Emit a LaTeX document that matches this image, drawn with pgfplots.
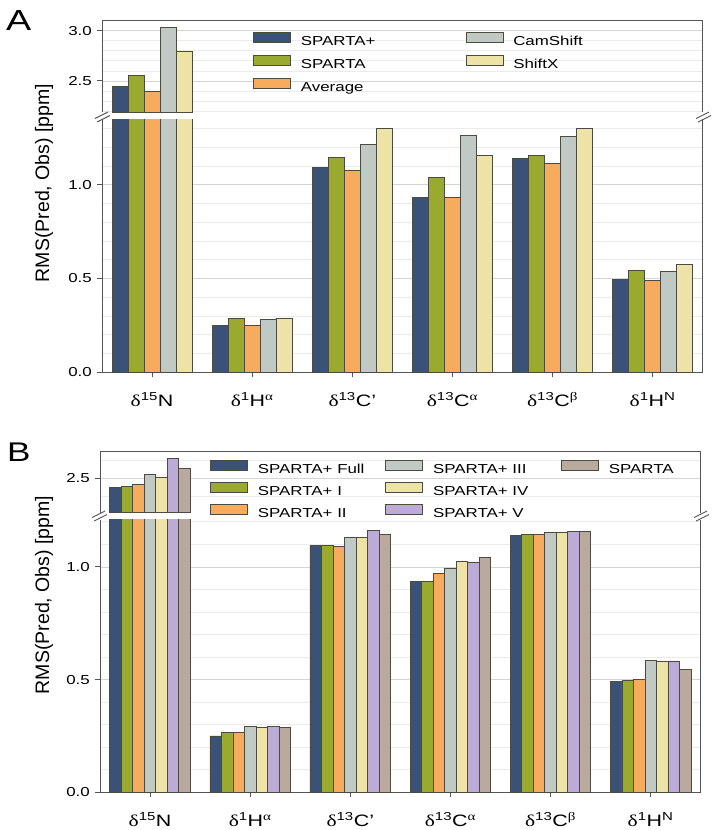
\documentclass[border=0pt]{standalone}
\usepackage{pgfplots}
\usepackage{pgfplotstable}
\pgfplotsset{compat=1.18}
\usepackage{fontspec}
\setmainfont{Liberation Sans}[FakeStretch=1.3]
\newfontfamily\labelfont{Liberation Sans}
\newfontfamily\greekfont{Liberation Serif}[FakeStretch=1.3]
\definecolor{cSP}{RGB}{59,82,120}
\definecolor{cSPA}{RGB}{154,170,46}
\definecolor{cAVG}{RGB}{246,172,92}
\definecolor{cCAM}{RGB}{193,201,197}
\definecolor{cSHX}{RGB}{237,227,167}
\definecolor{cV}{RGB}{188,170,215}
\definecolor{cTAU}{RGB}{186,170,158}
\definecolor{edge}{RGB}{75,75,65}
\definecolor{axisgray}{RGB}{85,85,85}
\newcommand{\dl}{{\greekfont δ}}
\newcommand{\ga}{{\greekfont α}}
\newcommand{\gb}{{\greekfont β}}

\pgfplotstableread{
x sp spa avg cam shx
0 2.447 2.553 2.397 3.03 2.793
1 0.250 0.289 0.250 0.282 0.287
2 1.094 1.144 1.076 1.214 1.300
3 0.934 1.040 0.931 1.262 1.156
4 1.138 1.156 1.115 1.255 1.298
5 0.495 0.544 0.491 0.539 0.574
}\tabA

\pgfplotstableread{
x full one two three four five spa
0 2.449 2.455 2.468 2.524 2.503 2.615 2.557
1 0.250 0.264 0.264 0.294 0.288 0.292 0.288
2 1.095 1.095 1.091 1.129 1.132 1.160 1.144
3 0.937 0.937 0.971 0.994 1.024 1.018 1.042
4 1.140 1.144 1.142 1.153 1.152 1.156 1.156
5 0.492 0.498 0.499 0.585 0.579 0.583 0.544
}\tabB

\pgfplotsset{
  barleg/.style={legend image code/.code={\draw[##1] (0pt,-0.35pt) rectangle (37pt,9.65pt);}},
  rms/.style={
    scale only axis, width=600.7pt,
    xmin=-0.5, xmax=5.5,
    ybar,
    axis line style={draw=axisgray, line width=0.9pt, -},
    ymajorgrids, yminorgrids,
    major grid style={draw=black!17, line width=0.7pt},
    minor grid style={draw=black!8, line width=0.7pt},
    tick style={draw=axisgray, line width=0.9pt},
    major tick length=5pt, minor tick length=0pt,
    tick align=outside,
    ytick pos=left,
    /pgf/number format/assume math mode=true,
    yticklabel style={font=\fontsize{13}{13}\selectfont, inner sep=0pt, xshift=-5pt},
    every axis plot/.append style={draw=edge, line width=0.7pt},
  },
  upper/.style={rms, axis x line*=top, axis y line*=box, xtick=\empty,
    every axis plot/.append style={restrict y to domain=2:4}},
  lower/.style={rms, axis x line*=bottom, axis y line*=box,
    xtick={0,1,2,3,4,5}, xtick pos=bottom,
    xticklabels={{\dl\textsuperscript{15}N},{\dl\textsuperscript{1}H\textsuperscript{\ga}},{\dl\textsuperscript{13}C'},{\dl\textsuperscript{13}C\textsuperscript{\ga}},{\dl\textsuperscript{13}C\textsuperscript{\gb}},{\dl\textsuperscript{1}H\textsuperscript{N}}},
    xticklabel style={font=\fontsize{16.5}{16.5}\selectfont, inner sep=0pt, anchor=base, yshift=-29pt},
    ymin=0, ytick={0,0.5,1.0}, yticklabels={0.0,0.5,1.0}},
}

\newcommand{\barsA}{%
\addplot[fill=cSP, bar width=0.16, bar shift=-0.32, forget plot] table[x=x,y=sp]{\tabA};
\addplot[fill=cSPA, bar width=0.16, bar shift=-0.16, forget plot] table[x=x,y=spa]{\tabA};
\addplot[fill=cAVG, bar width=0.16, bar shift=0, forget plot] table[x=x,y=avg]{\tabA};
\addplot[fill=cCAM, bar width=0.16, bar shift=0.16, forget plot] table[x=x,y=cam]{\tabA};
\addplot[fill=cSHX, bar width=0.16, bar shift=0.32, forget plot] table[x=x,y=shx]{\tabA};
}
\newcommand{\barsB}{%
\addplot[fill=cSP, bar width=0.115, bar shift=-0.345, forget plot] table[x=x,y=full]{\tabB};
\addplot[fill=cSPA, bar width=0.115, bar shift=-0.23, forget plot] table[x=x,y=one]{\tabB};
\addplot[fill=cAVG, bar width=0.115, bar shift=-0.115, forget plot] table[x=x,y=two]{\tabB};
\addplot[fill=cCAM, bar width=0.115, bar shift=0, forget plot] table[x=x,y=three]{\tabB};
\addplot[fill=cSHX, bar width=0.115, bar shift=0.115, forget plot] table[x=x,y=four]{\tabB};
\addplot[fill=cV, bar width=0.115, bar shift=0.23, forget plot] table[x=x,y=five]{\tabB};
\addplot[fill=cTAU, bar width=0.115, bar shift=0.345, forget plot] table[x=x,y=spa]{\tabB};
}

\begin{document}
\begin{tikzpicture}
\useasboundingbox (0,0) rectangle (715pt,-830pt);

% ---------- Panel A ----------
\begin{axis}[upper, at={(102pt,-112pt)}, anchor=south west, height=91.3pt,
  ymin=2.19, ymax=3.10, ytick={2.5,3.0}, yticklabels={2.5,3.0},
  minor ytick={2.2,2.3,2.4,2.6,2.7,2.8,2.9},
  legend cell align=left, legend columns=2,
  legend style={draw=none, fill=none, inner sep=0pt, at={(0.2514,0.880)}, anchor=north west,
    font=\fontsize{13}{13}\selectfont, row sep=6.9pt,
    nodes={inner sep=0pt, text height=10pt, text depth=2.6pt},
    /tikz/column 1/.style={column sep=10pt},
    /tikz/column 2/.style={column sep=90pt},
    /tikz/column 3/.style={column sep=10pt}},
]
\barsA
\addlegendimage{barleg, fill=cSP, draw=edge, line width=0.7pt}\addlegendentry{SPARTA+}
\addlegendimage{barleg, fill=cCAM, draw=edge, line width=0.7pt}\addlegendentry{CamShift}
\addlegendimage{barleg, fill=cSPA, draw=edge, line width=0.7pt}\addlegendentry{SPARTA}
\addlegendimage{barleg, fill=cSHX, draw=edge, line width=0.7pt}\addlegendentry{ShiftX}
\addlegendimage{barleg, fill=cAVG, draw=edge, line width=0.7pt}\addlegendentry{Average}
\end{axis}

\begin{axis}[lower, at={(102pt,-372.3pt)}, anchor=south west, height=253.3pt,
  ymax=1.35, minor ytick={0.1,0.2,0.3,0.4,0.6,0.7,0.8,0.9,1.1,1.2,1.3}]
\barsA
\end{axis}

% ---------- Panel B ----------
\begin{axis}[upper, at={(100pt,-512.7pt)}, anchor=south west, height=61.7pt,
  ymin=2.305, ymax=2.655, ytick={2.5}, yticklabels={2.5},
  minor ytick={2.4,2.6},
  legend cell align=left, legend columns=3,
  legend style={draw=none, fill=none, inner sep=0pt, at={(0.1831,0.86)}, anchor=north west,
    font=\fontsize{13}{13}\selectfont, row sep=5.75pt,
    nodes={inner sep=0pt, text height=10pt, text depth=2.6pt},
    /tikz/column 1/.style={column sep=10pt},
    /tikz/column 2/.style={column sep=20.9pt},
    /tikz/column 3/.style={column sep=10pt},
    /tikz/column 4/.style={column sep=32.8pt},
    /tikz/column 5/.style={column sep=10pt}},
]
\barsB
\addlegendimage{barleg, fill=cSP, draw=edge, line width=0.7pt}\addlegendentry{SPARTA+ Full}
\addlegendimage{barleg, fill=cCAM, draw=edge, line width=0.7pt}\addlegendentry{SPARTA+ III}
\addlegendimage{barleg, fill=cTAU, draw=edge, line width=0.7pt}\addlegendentry{SPARTA}
\addlegendimage{barleg, fill=cSPA, draw=edge, line width=0.7pt}\addlegendentry{SPARTA+ I}
\addlegendimage{barleg, fill=cSHX, draw=edge, line width=0.7pt}\addlegendentry{SPARTA+ IV}
\addlegendimage{empty legend}\addlegendentry{}
\addlegendimage{barleg, fill=cAVG, draw=edge, line width=0.7pt}\addlegendentry{SPARTA+ II}
\addlegendimage{barleg, fill=cV, draw=edge, line width=0.7pt}\addlegendentry{SPARTA+ V}
\addlegendimage{empty legend}\addlegendentry{}
\end{axis}

\begin{axis}[lower, at={(100pt,-792.3pt)}, anchor=south west, height=272.8pt,
  ymax=1.21, minor ytick={0.1,0.2,0.3,0.4,0.6,0.7,0.8,0.9,1.1,1.2}]
\barsB
\end{axis}

% break marks
\begin{scope}[draw=axisgray, line width=0.9pt]
\draw (95pt,-118.5pt) -- (108pt,-112pt);
\draw (97pt,-122pt) -- (110pt,-115.5pt);
\draw (696pt,-118.5pt) -- (709pt,-112pt);
\draw (698pt,-122pt) -- (711pt,-115.5pt);
\draw (92pt,-517.5pt) -- (105pt,-511pt);
\draw (94pt,-521pt) -- (107pt,-514.5pt);
\draw (694pt,-517.5pt) -- (707pt,-511pt);
\draw (696pt,-521pt) -- (709pt,-514.5pt);
\end{scope}

% axis titles and panel letters
\node[rotate=90, inner sep=0pt, font=\labelfont\fontsize{19.5}{19.5}\selectfont] at (44pt,-183pt) {RMS(Pred, Obs) [ppm]};
\node[rotate=90, inner sep=0pt, font=\labelfont\fontsize{19.5}{19.5}\selectfont] at (44pt,-595pt) {RMS(Pred, Obs) [ppm]};
\node[anchor=base west, inner sep=0pt, font=\fontsize{29}{29}\selectfont] at (6pt,-30.7pt) {A};
\node[anchor=base west, inner sep=0pt, font=\fontsize{27}{27}\selectfont] at (7pt,-461.7pt) {B};
\end{tikzpicture}
\end{document}
